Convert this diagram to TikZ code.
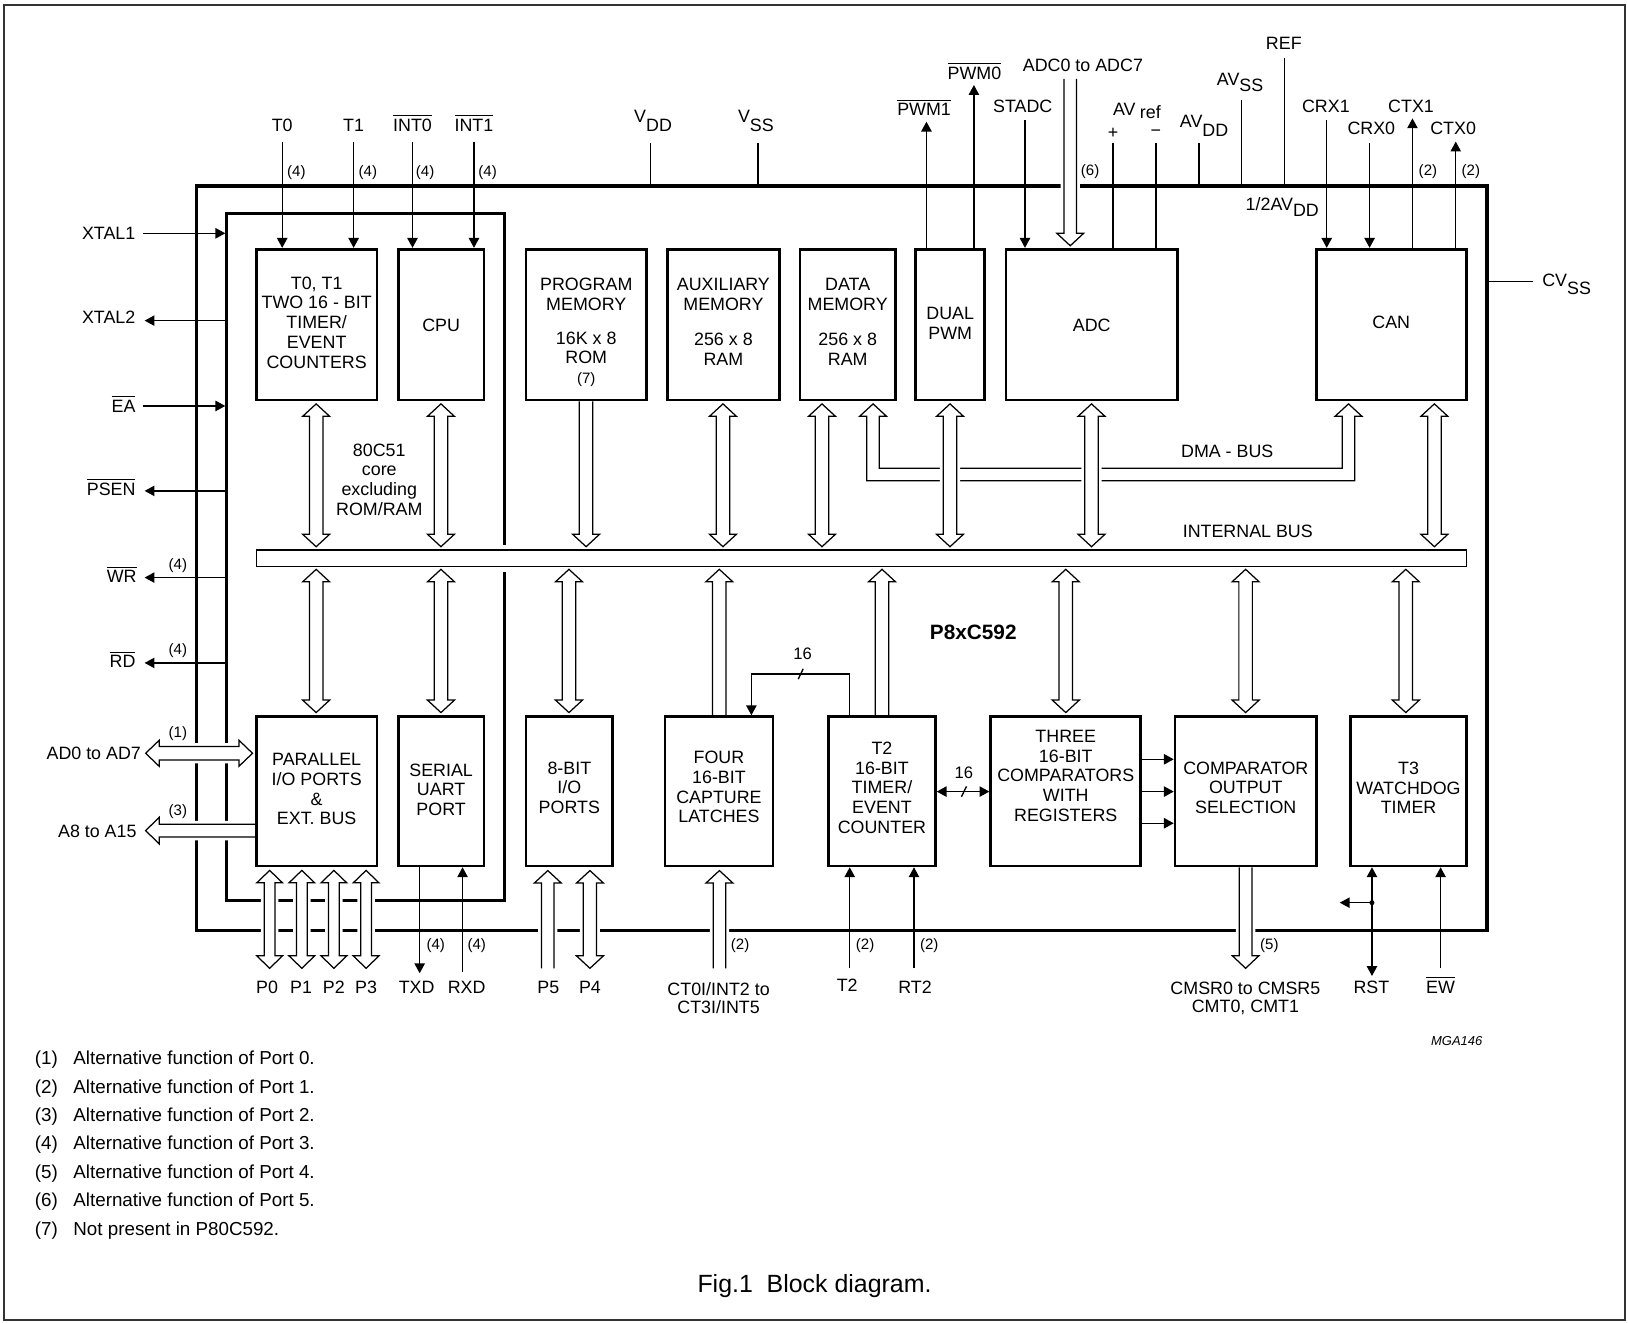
\documentclass[tikz,border=0pt]{standalone}
\usepackage{fontspec}
\setmainfont{Liberation Sans}
\usetikzlibrary{arrows.meta,calc}
\pgfdeclarelayer{fg}
\pgfsetlayers{main,fg}
\newcommand{\olbar}[1]{\vbox{\hrule height 1.1pt\kern 2.6pt\hbox{#1}}}
% hollow bus arrows: #1 x, #2 top ref, #3 bottom ref, #4 top gap, #5 bottom gap, #6 shaft half, #7 head half
\newcommand{\hboth}[7]{%
 \path[hol] let \p1=(#2), \p2=(#3) in
  ({#1pt},{\y1-#4pt}) -- ({#1pt+#7pt},{\y1-#4pt-12pt}) -- ({#1pt+#6pt},{\y1-#4pt-12pt})
  -- ({#1pt+#6pt},{\y2+#5pt+12pt}) -- ({#1pt+#7pt},{\y2+#5pt+12pt}) -- ({#1pt},{\y2+#5pt})
  -- ({#1pt-#7pt},{\y2+#5pt+12pt}) -- ({#1pt-#6pt},{\y2+#5pt+12pt})
  -- ({#1pt-#6pt},{\y1-#4pt-12pt}) -- ({#1pt-#7pt},{\y1-#4pt-12pt}) -- cycle;}
\newcommand{\htop}[7]{%
 \path[hol] let \p1=(#2), \p2=(#3) in
  ({#1pt-#6pt},{\y2+#5pt}) -- ({#1pt-#6pt},{\y1-#4pt-12pt}) -- ({#1pt-#7pt},{\y1-#4pt-12pt})
  -- ({#1pt},{\y1-#4pt}) -- ({#1pt+#7pt},{\y1-#4pt-12pt}) -- ({#1pt+#6pt},{\y1-#4pt-12pt})
  -- ({#1pt+#6pt},{\y2+#5pt});}
\newcommand{\hbot}[7]{%
 \path[hol] let \p1=(#2), \p2=(#3) in
  ({#1pt-#6pt},{\y1-#4pt}) -- ({#1pt-#6pt},{\y2+#5pt+12pt}) -- ({#1pt-#7pt},{\y2+#5pt+12pt})
  -- ({#1pt},{\y2+#5pt}) -- ({#1pt+#7pt},{\y2+#5pt+12pt}) -- ({#1pt+#6pt},{\y2+#5pt+12pt})
  -- ({#1pt+#6pt},{\y1-#4pt});}
\begin{document}
\begin{tikzpicture}[x=1pt,y=-1pt,
  lbl/.style={font=\fontsize{17.2}{19}\selectfont, inner sep=0pt, align=center},
  sl/.style={font=\fontsize{17.2}{19}\selectfont, inner sep=0pt},
  sml/.style={font=\fontsize{14.5}{16}\selectfont, inner sep=0pt},
  fn/.style={font=\fontsize{18.1}{20}\selectfont, inner sep=0pt},
  blk/.style={draw, line width=2.6pt, fill=white, inner sep=0pt},
  ln/.style={line width=1.3pt},
  sig/.style={line width=1.3pt, -{Triangle[length=9.5pt,width=10pt]}},
  sigb/.style={line width=1.3pt, {Triangle[length=9.5pt,width=10pt]}-{Triangle[length=9.5pt,width=10pt]}},
  hol/.style={draw, line width=1.2pt, fill=white, preaction={draw=white, line width=6.5pt, line join=round}},
]
\useasboundingbox (0,0) rectangle (1568,1274);
\fill[white] (0,0) rectangle (1568,1274);
\draw[line width=1.8pt, black!80] (4.1,4.5) rectangle (1565.3,1271);

% ---------- blocks (foreground layer) ----------
\begin{pgfonlayer}{fg}
\node[blk, minimum width=116pt, minimum height=145.2pt] (tbox) at (305,312.6) {};
\node[blk, minimum width=82.5pt, minimum height=145.2pt] (cpu) at (424.85,312.6) {};
\node[blk, minimum width=115.9pt, minimum height=145.2pt] (prog) at (564.65,312.6) {};
\node[blk, minimum width=107.7pt, minimum height=145.2pt] (aux) at (696.75,312.6) {};
\node[blk, minimum width=91.9pt, minimum height=145.2pt] (dmem) at (816.45,312.6) {};
\node[blk, minimum width=66.4pt, minimum height=145.2pt] (pwm) at (915.2,312.6) {};
\node[blk, minimum width=165pt, minimum height=145.2pt] (adc) at (1051.5,312.6) {};
\node[blk, minimum width=144.4pt, minimum height=145.2pt] (can) at (1340.1,312.6) {};
\node[blk, minimum width=116pt, minimum height=143.8pt] (par) at (305,762.1) {};
\node[blk, minimum width=82.5pt, minimum height=143.8pt] (ser) at (424.85,762.1) {};
\node[blk, minimum width=83.3pt, minimum height=143.8pt] (io8) at (548.35,762.1) {};
\node[blk, minimum width=103.9pt, minimum height=143.8pt] (four) at (692.45,762.1) {};
\node[blk, minimum width=102.9pt, minimum height=143.8pt] (t2) at (849.45,762.1) {};
\node[blk, minimum width=144.5pt, minimum height=143.8pt] (three) at (1026.45,762.1) {};
\node[blk, minimum width=136.1pt, minimum height=143.8pt] (cmp) at (1199.85,762.1) {};
\node[blk, minimum width=111.4pt, minimum height=143.8pt] (t3) at (1356.6,762.1) {};
\node[draw, line width=1.3pt, fill=white, inner sep=0pt, minimum width=1165.3pt, minimum height=16pt] (bus) at (829.65,537.7) {};
\end{pgfonlayer}

% ---------- chip and core outlines ----------
\node[draw, line width=3.3pt, minimum width=1243pt, minimum height=717pt, inner sep=0pt, outer sep=0pt] (chip) at (810.5,537.5) {};
\coordinate (coreNW) at (218.4,206);
\draw[line width=2.8pt] (486,524.5) -- (486,206) -- (218.4,206) -- (218.4,867.7) -- (486,867.7) -- (486,551);

% ---------- DMA bus ----------
\path[hol] let \p1=(dmem.south), \p2=(can.south) in
 ({834.9pt},{\y1-14.5pt}) -- ({827.9pt},{\y1-14.5pt}) -- ({840.9pt},{\y1-2.5pt}) -- ({853.9pt},{\y1-14.5pt})
 -- ({846.9pt},{\y1-14.5pt}) -- ({846.9pt},{-451pt}) -- ({1292.8pt},{-451pt}) -- ({1292.8pt},{\y2-14.5pt})
 -- ({1285.8pt},{\y2-14.5pt}) -- ({1298.8pt},{\y2-2.5pt}) -- ({1311.8pt},{\y2-14.5pt}) -- ({1304.8pt},{\y2-14.5pt})
 -- ({1304.8pt},{-463pt}) -- ({834.9pt},{-463pt}) -- cycle;

% ---------- hollow bus arrows ----------
\hboth{304.5}{tbox.south}{bus.north}{2.5}{2.5}{6.5}{13}
\hboth{424.7}{cpu.south}{bus.north}{2.5}{2.5}{6.5}{13}
\hbot{564.5}{prog.south}{bus.north}{0}{2.5}{6.5}{13}
\hboth{696.3}{aux.south}{bus.north}{2.5}{2.5}{6.5}{13}
\hboth{791.7}{dmem.south}{bus.north}{2.5}{2.5}{6.5}{13}
\hboth{915}{pwm.south}{bus.north}{2.5}{2.5}{6.5}{13}
\hboth{1051.3}{adc.south}{bus.north}{2.5}{2.5}{6.5}{13}
\hboth{1381.5}{can.south}{bus.north}{2.5}{2.5}{6.5}{13}
\hboth{304.5}{bus.south}{par.north}{2}{2.6}{6.5}{13}
\hboth{424.7}{bus.south}{ser.north}{2}{2.6}{6.5}{13}
\hboth{548}{bus.south}{io8.north}{2}{2.6}{6.5}{13}
\htop{692.8}{bus.south}{four.north}{2}{0}{6.5}{13}
\htop{849.5}{bus.south}{t2.north}{2}{0}{6.5}{13}
\hboth{1026.5}{bus.south}{three.north}{2}{2.6}{6.5}{13}
\hboth{1199.7}{bus.south}{cmp.north}{2}{2.6}{6.5}{13}
\hboth{1354}{bus.south}{t3.north}{2}{2.6}{6.5}{13}
\coordinate (adcin) at (1030.8,76);
\hbot{1030.8}{adcin}{adc.north}{0}{2}{6.1}{12.9}
\coordinate (p0e) at (259.7,932.6);
\coordinate (p1e) at (290.7,932.6);
\coordinate (p2e) at (321.6,932.6);
\coordinate (p3e) at (352.6,932.6);
\hboth{259.7}{par.south}{p0e}{3}{0}{5.2}{12.4}
\hboth{290.7}{par.south}{p1e}{3}{0}{5.2}{12.4}
\hboth{321.6}{par.south}{p2e}{3}{0}{5.2}{12.4}
\hboth{352.6}{par.south}{p3e}{3}{0}{5.2}{12.4}
\coordinate (p5e) at (527.6,932.6);
\coordinate (p4e) at (568.2,932.6);
\htop{527.6}{io8.south}{p5e}{3.2}{0}{6}{13}
\hboth{568.2}{io8.south}{p4e}{3.2}{0}{6.4}{13}
\coordinate (ct0e) at (692.9,932.6);
\htop{692.9}{four.south}{ct0e}{3.2}{0}{6}{13}
\coordinate (cmsre) at (1199.7,932.6);
\hbot{1199.7}{cmp.south}{cmsre}{0}{0}{6.1}{12.7}
\coordinate (ad0e) at (140.3,725.5);
\path[hol] let \p1=(ad0e), \p2=(par.west) in
 ({\x1},{\y1}) -- ({\x1+13pt},{\y1+12.5pt}) -- ({\x1+13pt},{\y1+6.5pt}) -- ({\x2-15.5pt},{\y1+6.5pt})
 -- ({\x2-15.5pt},{\y1+12.5pt}) -- ({\x2-2.5pt},{\y1}) -- ({\x2-15.5pt},{\y1-12.5pt}) -- ({\x2-15.5pt},{\y1-6.5pt})
 -- ({\x1+13pt},{\y1-6.5pt}) -- ({\x1+13pt},{\y1-12.5pt}) -- cycle;
\coordinate (a8e) at (140.3,800);
\path[hol] let \p1=(a8e), \p2=(par.west) in
 ({\x2},{\y1+6.1pt}) -- ({\x1+13pt},{\y1+6.1pt}) -- ({\x1+13pt},{\y1+12.8pt}) -- ({\x1},{\y1})
 -- ({\x1+13pt},{\y1-12.8pt}) -- ({\x1+13pt},{\y1-6.1pt}) -- ({\x2},{\y1-6.1pt});

% ---------- thin signals ----------
\coordinate (t0s) at (271.8,136.4); \draw[sig] (t0s) -- (t0s |- tbox.north);
\coordinate (t1s) at (340.6,136.4); \draw[sig] (t1s) -- (t1s |- tbox.north);
\coordinate (i0s) at (397.3,136.4); \draw[sig] (i0s) -- (i0s |- cpu.north);
\coordinate (i1s) at (456.5,136.4); \draw[sig] (i1s) -- (i1s |- cpu.north);
\coordinate (vdds) at (626.7,138); \draw[ln] (vdds) -- (vdds |- chip.north);
\coordinate (vsss) at (730,138); \draw[ln] (vsss) -- (vsss |- chip.north);
\coordinate (pwm1e) at (892.3,117.2); \draw[sig] (pwm1e |- pwm.north) -- (pwm1e);
\coordinate (pwm0e) at (938,81.9); \draw[sig] (pwm0e |- pwm.north) -- (pwm0e);
\coordinate (stas) at (987.2,115.6); \draw[sig] (stas) -- (stas |- adc.north);
\coordinate (avps) at (1072,138); \draw[ln] (avps) -- (avps |- adc.north);
\coordinate (avms) at (1113.3,138); \draw[ln] (avms) -- (avms |- adc.north);
\coordinate (avdds) at (1154.9,138); \draw[ln] (avdds) -- (avdds |- chip.north);
\coordinate (avsss) at (1195.9,96.3); \draw[ln] (avsss) -- (avsss |- chip.north);
\coordinate (refs) at (1237.2,56.2); \draw[ln] (refs) -- (refs |- chip.north);
\coordinate (crx1s) at (1277.8,115.6); \draw[sig] (crx1s) -- (crx1s |- can.north);
\coordinate (crx0s) at (1319.1,138); \draw[sig] (crx0s) -- (crx0s |- can.north);
\coordinate (ctx1e) at (1360.4,114); \draw[sig] (ctx1e |- can.north) -- (ctx1e);
\coordinate (ctx0e) at (1402.1,136.4); \draw[sig] (ctx0e |- can.north) -- (ctx0e);
\coordinate (cvsse) at (1476.1,271.3); \draw[ln] (cvsse -| chip.east) -- (cvsse);
\coordinate (xt1s) at (137.6,224.7); \draw[sig, shorten >=1.4pt] (xt1s) -- (xt1s -| coreNW);
\coordinate (xt2e) at (139.3,308.8); \draw[sig] (xt2e -| coreNW) -- (xt2e);
\coordinate (eas) at (137.6,391); \draw[sig, shorten >=1.4pt] (eas) -- (eas -| coreNW);
\coordinate (psene) at (139.3,472.8); \draw[sig] (psene -| coreNW) -- (psene);
\coordinate (wre) at (139.3,556.3); \draw[sig] (wre -| coreNW) -- (wre);
\coordinate (rde) at (139.3,638.5); \draw[sig] (rde -| coreNW) -- (rde);
\coordinate (txde) at (404.2,937.4); \draw[sig] (txde |- ser.south) -- (txde);
\coordinate (rxds) at (445.5,935.8); \draw[sig] (rxds) -- (rxds |- ser.south);
\coordinate (t2s) at (818.4,932.6); \draw[sig] (t2s) -- (t2s |- t2.south);
\coordinate (rt2s) at (880.3,932.6); \draw[sig] (rt2s) -- (rt2s |- t2.south);
\coordinate (rste) at (1321.4,940); \draw[sigb] (rste |- t3.south) -- (rste);
\coordinate (rstj) at (1321.4,869.4); \coordinate (rstb) at (1290.4,869.4);
\draw[sig] (rstj) -- (rstb); \fill (rstj) circle (2.4pt);
\coordinate (ews) at (1387.5,932.6); \draw[sig] (ews) -- (ews |- t3.south);
\coordinate (cap1) at (818.4,649.1); \coordinate (cap2) at (723.7,649.1);
\draw[sig] (cap1 |- t2.north) -- (cap1) -- (cap2) -- (cap2 |- four.north);
\coordinate (sl1) at (771.2,649.1);
\draw[ln] ([shift={(-2.4,5)}]sl1) -- ([shift={(2.4,-5)}]sl1);
\coordinate (l16) at (928.4,762.4);
\draw[sigb] (l16 -| t2.east) -- (l16 -| three.west);
\draw[ln] ([shift={(-2.4,5)}]l16) -- ([shift={(2.4,-5)}]l16);
\coordinate (c1) at (1115,731.3); \coordinate (c2) at (1115,762.4); \coordinate (c3) at (1115,792.9);
\draw[sig] (c1 -| three.east) -- (c1 -| cmp.west);
\draw[sig] (c2 -| three.east) -- (c2 -| cmp.west);
\draw[sig] (c3 -| three.east) -- (c3 -| cmp.west);

% ---------- texts ----------
\begin{pgfonlayer}{fg}
\node[lbl] (tboxt) at (305,310.6) {T0, T1\\TWO 16 - BIT\\TIMER/\\EVENT\\COUNTERS};
\node[lbl] (cput) at (424.85,313.6) {CPU};
\node[lbl] (progt) at (564.65,283.6) {PROGRAM\\MEMORY};
\node[lbl] (progt2) at (564.65,335) {16K x 8\\ROM};
\node[sml] (prog7) at (564.65,366) {(7)};
\node[lbl] (auxt) at (696.75,283.6) {AUXILIARY\\MEMORY};
\node[lbl] (auxt2) at (696.75,336.2) {256 x 8\\RAM};
\node[lbl] (dmemt) at (816.45,283.6) {DATA\\MEMORY};
\node[lbl] (dmemt2) at (816.45,336.2) {256 x 8\\RAM};
\node[lbl] (pwmt) at (915.2,311.7) {DUAL\\PWM};
\node[lbl] (adct) at (1051.5,313) {ADC};
\node[lbl] (cant) at (1340,310.8) {CAN};
\node[lbl] (part) at (305,760) {PARALLEL\\I/O PORTS\\\&\\EXT. BUS};
\node[lbl] (sert) at (424.85,760.5) {SERIAL\\UART\\PORT};
\node[lbl] (io8t) at (548.35,758.8) {8-BIT\\I/O\\PORTS};
\node[lbl] (fourt) at (692.45,758) {FOUR\\16-BIT\\CAPTURE\\LATCHES};
\node[lbl] (t2t) at (849.45,758.8) {T2\\16-BIT\\TIMER/\\EVENT\\COUNTER};
\node[lbl] (threet) at (1026.45,747.2) {THREE\\16-BIT\\COMPARATORS\\WITH\\REGISTERS};
\node[lbl] (cmpt) at (1199.85,758.8) {COMPARATOR\\OUTPUT\\SELECTION};
\node[lbl] (t3t) at (1356.6,758.8) {T3\\WATCHDOG\\TIMER};
\end{pgfonlayer}
\node[lbl] (coret) at (365.3,462) {80C51\\core\\excluding\\ROM/RAM};
\node[sl] (ibus) at (1201.8,512) {INTERNAL BUS};
\node[sl] (dbus) at (1182,435) {DMA - BUS};
\node[font=\fontsize{20}{22}\selectfont\bfseries, inner sep=0pt] (chipname) at (937.4,609.3) {P8xC592};
\node[sl, font=\fontsize{16}{18}\selectfont] (n16a) at (773,629.8) {16};
\node[sl, font=\fontsize{16}{18}\selectfont] (n16b) at (928.4,744.7) {16};

% top labels
\node[sl, anchor=base] (t0l) at (271.8,126.5) {T0};
\node[sl, anchor=base] (t1l) at (340.6,126.5) {T1};
\node[sl, anchor=base] (int0l) at (397.3,126.5) {\olbar{INT0}};
\node[sl, anchor=base] (int1l) at (456.5,126.5) {\olbar{INT1}};
\node[sl, anchor=base] (vddl) at (629,118.1) {V\raisebox{-8.7pt}{DD}};
\node[sl, anchor=base] (vssl) at (728,118.1) {V\raisebox{-8.7pt}{SS}};
\node[sl, anchor=base] (pwm1l) at (890,111.4) {\olbar{PWM1}};
\node[sl, anchor=base] (pwm0l) at (938.5,76.1) {\olbar{PWM0}};
\node[sl, anchor=base] (stadcl) at (985,108.8) {STADC};
\node[sl, anchor=base] (adcinl) at (1043,68.7) {ADC0 to ADC7};
\node[sl, anchor=base] (avl) at (1082.9,111.2) {AV};
\node[sl, anchor=base west] (refl2) at (1097.7,114.6) {ref};
\node[sl] (avpl) at (1072,128) {+};
\node[sl] (avml) at (1113.3,128) {−};
\node[sl, anchor=base] (avddl) at (1159.7,123) {AV\raisebox{-8.7pt}{DD}};
\node[sl, anchor=base] (avssl) at (1194.4,82.8) {AV\raisebox{-5.8pt}{SS}};
\node[sl, anchor=base] (refl) at (1236.5,47.8) {REF};
\node[sl, anchor=base] (halfl) at (1235,203.2) {1/2AV\raisebox{-5.5pt}{DD}};
\node[sl, anchor=base] (crx1l) at (1277,108.1) {CRX1};
\node[sl, anchor=base] (ctx1l) at (1359,108.1) {CTX1};
\node[sl, anchor=base] (crx0l) at (1320.8,129.1) {CRX0};
\node[sl, anchor=base] (ctx0l) at (1399.6,129.1) {CTX0};
\node[sl, anchor=base] (cvssl) at (1508.9,276.1) {CV\raisebox{-7.2pt}{SS}};
% left labels
\node[sl, anchor=base east] (xt1l) at (130.5,230.8) {XTAL1};
\node[sl, anchor=base east] (xt2l) at (130.5,311.4) {XTAL2};
\node[sl, anchor=base east] (eal) at (130.7,397) {\olbar{EA}};
\node[sl, anchor=base east] (psenl) at (130.7,477) {\olbar{PSEN}};
\node[sl, anchor=base east] (wrl) at (131.7,561.4) {\olbar{WR}};
\node[sl, anchor=base east] (rdl) at (130.7,643.3) {\olbar{RD}};
\node[sl, anchor=base east] (ad0l) at (135.9,731.6) {AD0 to AD7};
\node[sl, anchor=base east] (a8l) at (131.7,807) {A8 to A15};
% bottom labels
\node[sl, anchor=base] (p0l) at (257.3,956.4) {P0};
\node[sl, anchor=base] (p1l) at (290,956.4) {P1};
\node[sl, anchor=base] (p2l) at (321.6,956.4) {P2};
\node[sl, anchor=base] (p3l) at (352.6,956.4) {P3};
\node[sl, anchor=base] (txdl) at (401.3,956.4) {TXD};
\node[sl, anchor=base] (rxdl) at (449.5,956.4) {RXD};
\node[sl, anchor=base] (p5l) at (528.1,956.4) {P5};
\node[sl, anchor=base] (p4l) at (568.2,956.4) {P4};
\node[lbl, font=\fontsize{17.2}{17.6}\selectfont, anchor=north] (ct0l) at (692.1,945.8) {CT0I/INT2 to\\CT3I/INT5};
\node[sl, anchor=base] (t2l) at (816,955.4) {T2};
\node[sl, anchor=base] (rt2l) at (881.3,956.4) {RT2};
\node[lbl, font=\fontsize{17.2}{17.6}\selectfont, anchor=north] (cmsrl) at (1199.5,945.8) {CMSR0 to CMSR5\\CMT0, CMT1};
\node[sl, anchor=base] (rstl) at (1320.8,956.4) {RST};
\node[sl, anchor=base] (ewl) at (1387.5,956.4) {\olbar{EW}};
% small note marks
\node[sml] (n4a) at (285.5,166.3) {(4)};
\node[sml] (n4b) at (354.3,166.3) {(4)};
\node[sml] (n4c) at (409.4,166.3) {(4)};
\node[sml] (n4d) at (469.6,166.3) {(4)};
\node[sml] (n6) at (1049.9,165.3) {(6)};
\node[sml] (n2a) at (1375.3,165.3) {(2)};
\node[sml] (n2b) at (1416.6,165.3) {(2)};
\node[sml] (n4e) at (171.3,544.7) {(4)};
\node[sml] (n4f) at (171.3,626.6) {(4)};
\node[sml] (n1) at (171.3,706.2) {(1)};
\node[sml] (n3) at (171.3,781.7) {(3)};
\node[sml] (n4g) at (419.7,911) {(4)};
\node[sml] (n4h) at (459.2,911) {(4)};
\node[sml] (n2c) at (712.8,911) {(2)};
\node[sml] (n2d) at (833.2,911) {(2)};
\node[sml] (n2e) at (895,911) {(2)};
\node[sml] (n5) at (1222.6,911) {(5)};
\node[font=\fontsize{12.5}{14}\selectfont\itshape, inner sep=0pt, anchor=base] (mga) at (1403,1006.5) {MGA146};
% footnotes
\foreach \i/\ftxt in {1/Alternative function of Port 0.,2/Alternative function of Port 1.,3/Alternative function of Port 2.,4/Alternative function of Port 3.,5/Alternative function of Port 4.,6/Alternative function of Port 5.,7/Not present in P80C592.}{
  \node[fn, anchor=base] (fnn\i) at (44.7,{1025.7+27.3*(\i-1)}) {(\i)};
  \node[fn, anchor=base west] (fnt\i) at (70.5,{1025.7+27.3*(\i-1)}) {\ftxt};
}
\node[font=\fontsize{24}{26}\selectfont, inner sep=0pt, anchor=base] (caption) at (784.5,1244.6) {Fig.1\ \ Block diagram.};
\end{tikzpicture}
\end{document}
